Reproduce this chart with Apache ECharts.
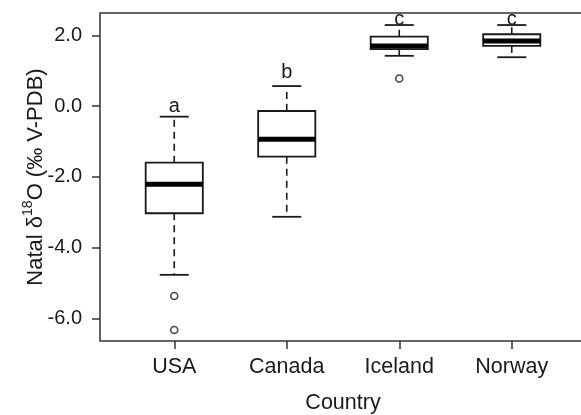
<!DOCTYPE html>
<html>
<head>
<meta charset="utf-8">
<script src="https://cdn.jsdelivr.net/npm/echarts@6/dist/echarts.min.js"></script>
<style>
html,body{margin:0;padding:0;background:#fff;}
#chart{width:581px;height:415px;}
</style>
</head>
<body>
<div id="chart"></div>
<script>
const categories = ['USA', 'Canada', 'Iceland', 'Norway'];
const whiskerLow  = [-4.77, -3.13, 1.42, 1.38];
const q1          = [-3.03, -1.43, 1.61, 1.70];
const median      = [-2.21, -0.94, 1.70, 1.84];
const q3          = [-1.60, -0.14, 1.96, 2.03];
const whiskerHigh = [-0.30, 0.565, 2.29, 2.29];
const outlierCountry = ['USA', 'USA', 'Iceland'];
const outlierValue   = [-5.37, -6.33, 0.78];
const letters = ['a', 'b', 'c', 'c'];
const letterY = [0.0, 0.96, 2.46, 2.46];
const yTicks = [-6, -4, -2, 0, 2];

const FONT = '"Liberation Sans", Arial, Helvetica, sans-serif';
const INK = '#1a1a1a';

const boxData = categories.map((c, i) => [i + 1, whiskerLow[i], q1[i], median[i], q3[i], whiskerHigh[i]]);
const outlierData = outlierCountry.map((c, i) => [categories.indexOf(c) + 1, outlierValue[i]]);
const letterData = letters.map((l, i) => [i + 1, letterY[i]]);

const chart = echarts.init(document.getElementById('chart'), null, {renderer: 'canvas'});

function renderBox(params, api) {
  const x = api.value(0);
  const lo = api.value(1), a = api.value(2), m = api.value(3), b = api.value(4), hi = api.value(5);
  const halfW = 0.254, capW = 0.129;
  const pL = api.coord([x - halfW, b]);
  const pR = api.coord([x + halfW, a]);
  const cl = api.coord([x - capW, lo]);
  const cr = api.coord([x + capW, hi]);
  const pLo = api.coord([x, lo]);
  const pHi = api.coord([x, hi]);
  const pA = api.coord([x, a]);
  const pB = api.coord([x, b]);
  const mL = api.coord([x - halfW, m]);
  const mR = api.coord([x + halfW, m]);
  const stroke = {stroke: INK, lineWidth: 1.8, fill: null};
  const dashed = {stroke: INK, lineWidth: 1.6, lineDash: [7, 5], fill: null};
  return {
    type: 'group',
    children: [
      {type: 'line', shape: {x1: pB[0], y1: pB[1], x2: pHi[0], y2: pHi[1]}, style: dashed},
      {type: 'line', shape: {x1: pA[0], y1: pA[1], x2: pLo[0], y2: pLo[1]}, style: dashed},
      {type: 'line', shape: {x1: cl[0], y1: pHi[1], x2: cr[0], y2: pHi[1]}, style: stroke},
      {type: 'line', shape: {x1: cl[0], y1: pLo[1], x2: cr[0], y2: pLo[1]}, style: stroke},
      {type: 'rect', shape: {x: pL[0], y: pL[1], width: pR[0] - pL[0], height: pR[1] - pL[1]},
        style: {stroke: INK, lineWidth: 1.8, fill: '#fff'}},
      {type: 'line', shape: {x1: mL[0], y1: mL[1], x2: mR[0], y2: mR[1]}, style: {stroke: '#000', lineWidth: 5}}
    ]
  };
}

function renderLetter(params, api) {
  const p = api.coord([api.value(0), api.value(1)]);
  return {
    type: 'text',
    x: p[0], y: p[1],
    style: {text: letters[params.dataIndex], fontSize: 20, fontFamily: FONT, fill: INK, align: 'center', verticalAlign: 'middle'}
  };
}

chart.setOption({
  animation: false,
  backgroundColor: '#fff',
  grid: {left: 100, top: 13, width: 486, height: 328, show: true, borderColor: '#333', borderWidth: 1.5,
    backgroundColor: 'transparent', containLabel: false, outerBoundsMode: 'none'},
  xAxis: {
    type: 'value', min: 0.34, max: 4.66,
    name: 'Country', nameLocation: 'middle', nameGap: 51, nameMoveOverlap: false,
    nameTextStyle: {fontSize: 21.5, fontFamily: FONT, color: INK},
    axisLine: {show: false, onZero: false},
    splitLine: {show: false},
    axisTick: {show: true, customValues: [1, 2, 3, 4], length: 8, lineStyle: {color: '#333', width: 1.5}},
    axisLabel: {customValues: [1, 2, 3, 4], margin: 15, fontSize: 21.5, fontFamily: FONT, color: INK,
      formatter: v => categories[Math.round(v) - 1]}
  },
  yAxis: {
    type: 'value', min: -6.64, max: 2.63,
    name: '{a|Natal δ}{s|18}{a|O (‰ V-PDB)}', nameLocation: 'middle', nameGap: 49, nameRotate: 90,
    nameMoveOverlap: false,
    nameTextStyle: {
      rich: {
        a: {fontSize: 22, fontFamily: FONT, color: INK, lineHeight: 30},
        s: {fontSize: 14, fontFamily: FONT, color: INK, lineHeight: 15, verticalAlign: 'top'}
      }
    },
    axisLine: {show: false, onZero: false},
    splitLine: {show: false},
    axisTick: {show: true, customValues: yTicks, length: 8, lineStyle: {color: '#333', width: 1.5}},
    axisLabel: {customValues: yTicks, margin: 18, fontSize: 20, fontFamily: FONT, color: INK,
      formatter: v => v.toFixed(1)}
  },
  series: [
    {
      type: 'custom', renderItem: renderBox, data: boxData,
      encode: {x: 0, y: [1, 2, 3, 4, 5]}, clip: false, z: 2
    },
    {
      type: 'scatter', data: outlierData, symbol: 'circle', symbolSize: 7,
      itemStyle: {color: '#fff', borderColor: INK, borderWidth: 1.6}, z: 3
    },
    {
      type: 'custom', renderItem: renderLetter, data: letterData,
      encode: {x: 0, y: 1}, clip: false, z: 4
    }
  ]
});
</script>
</body>
</html>
